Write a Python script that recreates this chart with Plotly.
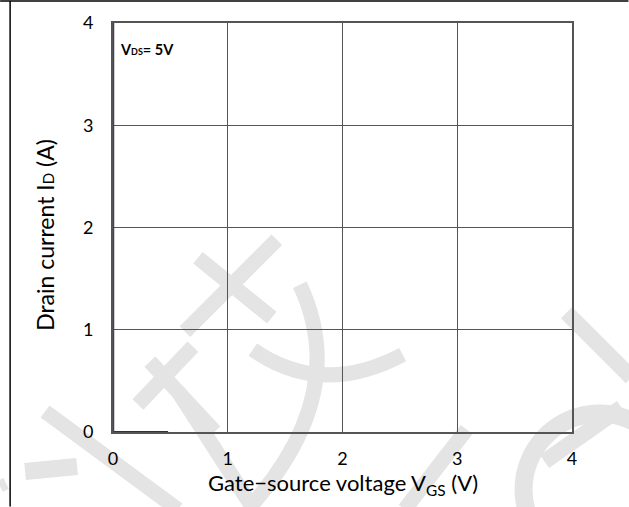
import numpy as np
import plotly.graph_objects as go

# ---- data ----
x_ticks = [0, 1, 2, 3, 4]
y_ticks = [0, 1, 2, 3, 4]
vds5_vgs = [0, 0]          # V_GS (V)
vds5_id = [0, 4]           # I_D (A)
base_vgs = [0, 0.48]
base_id = [0, 0]

# ---- geometry helpers (plot area in pixels) ----
W, H = 629, 507
L, R, T, B = 113, 572.5, 23, 432.5
def px(x):
    return (x - L) / (R - L)
def py(y):
    return (B - y) / (B - T)

fig = go.Figure()
fig.add_trace(go.Scatter(x=base_vgs, y=base_id, mode="lines",
                         line=dict(color="#333333", width=2), showlegend=False, hoverinfo="skip",
                         cliponaxis=False))
fig.add_trace(go.Scatter(x=vds5_vgs, y=vds5_id, mode="lines",
                         line=dict(color="#4a3c6e", width=2.5), showlegend=False, hoverinfo="skip",
                         cliponaxis=False))

# ---- watermark (light grey strokes, decorative) ----
wm = "#e4e4e4"
shapes = []
def stroke(pts, w=15):
    d = "M " + " L ".join(f"{px(a):.4f},{py(b):.4f}" for a, b in pts)
    shapes.append(dict(type="path", path=d, xref="paper", yref="paper",
                       line=dict(color=wm, width=w), layer="below"))
def quad(p0, c, p1, w=15):
    d = (f"M {px(p0[0]):.4f},{py(p0[1]):.4f} Q {px(c[0]):.4f},{py(c[1]):.4f} "
         f"{px(p1[0]):.4f},{py(p1[1]):.4f}")
    shapes.append(dict(type="path", path=d, xref="paper", yref="paper",
                       line=dict(color=wm, width=w), layer="below"))

stroke([(45, 412), (178, 510)])
stroke([(25, 472), (77, 467)], 17)
stroke([(0, 487), (6, 484)], 12)
stroke([(277, 240), (185, 332)])
stroke([(198, 258), (272, 318)])
quad((300, 285), (352, 395), (248, 510))
quad((253, 350), (322, 398), (403, 355))
stroke([(193, 347), (138, 405)])
stroke([(150, 362), (215, 432)])
stroke([(178, 392), (252, 507)])
stroke([(467, 430), (405, 510)])
stroke([(567, 313), (632, 378)], 16)
t = np.radians(np.linspace(-45, 255, 60))
cx, cy, r = 600, 490, 76
stroke(list(zip(cx + r * np.cos(t), cy - r * np.sin(t))), 18)
stroke([(545, 462), (622, 408)], 16)

# border lines
shapes.append(dict(type="line", xref="paper", yref="paper",
                   x0=px(0), x1=px(W), y0=py(1), y1=py(1),
                   line=dict(color="#000000", width=1.5), layer="above"))
shapes.append(dict(type="line", xref="paper", yref="paper",
                   x0=px(10), x1=px(10), y0=py(1), y1=py(H),
                   line=dict(color="#000000", width=1.5), layer="above"))

font = "Lato, 'Open Sans', sans-serif"
fig.update_layout(
    width=W, height=H,
    margin=dict(l=L, r=W - R, t=T, b=H - B, pad=0),
    paper_bgcolor="white", plot_bgcolor="rgba(0,0,0,0)",
    font=dict(family=font, size=18, color="#000000"),
    shapes=shapes,
    showlegend=False,
)
fig.update_xaxes(range=[0, 4], tickvals=x_ticks, ticktext=[str(v) for v in x_ticks],
                 showgrid=True, gridcolor="#555555", gridwidth=1,
                 showline=True, linecolor="#555555", linewidth=2, mirror=True,
                 ticks="outside", ticklen=9, tickcolor="rgba(0,0,0,0)",
                 zeroline=False, tickfont=dict(size=18), automargin=False,
                 layer="below traces")
fig.update_yaxes(range=[0, 4], tickvals=y_ticks, ticktext=[str(v) for v in y_ticks],
                 showgrid=True, gridcolor="#555555", gridwidth=1,
                 showline=True, linecolor="#555555", linewidth=2, mirror=True,
                 ticks="outside", ticklen=14, tickcolor="rgba(0,0,0,0)",
                 zeroline=False, tickfont=dict(size=18), automargin=False,
                 layer="below traces")

# axis titles
fig.add_annotation(x=0.5, y=py(485), xref="paper", yref="paper",
                   xanchor="center", yanchor="middle", showarrow=False,
                   text="Gate\u2212source voltage V<sub>GS</sub> (V)",
                   font=dict(size=22, family=font))
fig.add_annotation(x=px(45), y=py(235), xref="paper", yref="paper",
                   xanchor="center", yanchor="middle", showarrow=False, textangle=-90,
                   text="Drain current I<span style='font-size:15px'>D</span> (A)",
                   font=dict(size=23, family=font))

fig.add_annotation(x=0.04, y=3.74, xref="x", yref="y", xanchor="left", yanchor="middle",
                   text="<b>V<span style='font-size:9px'>DS</span>= 5V</b>",
                   showarrow=False, font=dict(size=14.5, family=font))

fig.write_html("out.html", config={"displayModeBar": False},
               post_script="document.body.style.margin='0px';")
